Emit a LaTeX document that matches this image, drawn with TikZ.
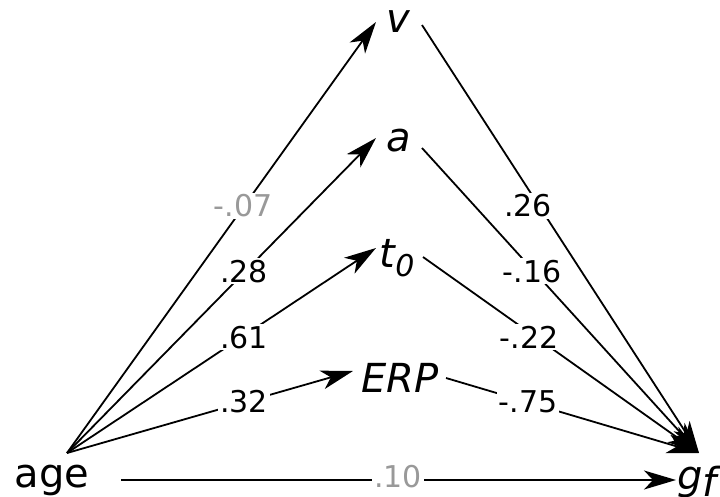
\documentclass[tikz,border=0pt]{standalone}
\usepackage{fontspec}
\setmainfont{DejaVu Sans}
\usetikzlibrary{arrows.meta}
\tikzset{
  nodetxt/.style={anchor=base, inner sep=0pt, font=\fontsize{40}{48}\selectfont},
  lbl/.style={anchor=base, fill=white, inner sep=2pt, font=\fontsize{30}{36}\selectfont},
  grey/.style={text=black!40},
  edge/.style={line width=1.8pt},
  arr/.style={edge, -{Stealth[length=32pt, width=19pt, inset=9pt]}},
}
\begin{document}
\begin{tikzpicture}[x=1pt, y=-1pt]
\useasboundingbox (0,0) rectangle (720,497);
% nodes
\node[nodetxt] (age) at (52,487) {age};
\node[nodetxt] (v) at (398,33) {\itshape v};
\node[nodetxt] (a) at (399,152) {\itshape a};
\node[nodetxt] (t0) at (397,267) {\itshape t\raisebox{-9pt}{\fontsize{30}{36}\selectfont 0}};
\node[nodetxt] (erp) at (400,392) {\itshape ERP};
\node[nodetxt, anchor=base west] (gf) at (677,489) {\itshape g\raisebox{-7pt}{f}};
% connector ends
\coordinate (src) at (67,453);
\coordinate (vin) at (376,22);
\coordinate (ain) at (376,138);
\coordinate (tin) at (376,248);
\coordinate (ein) at (353,371);
\coordinate (vout) at (422,25);
\coordinate (aout) at (422,148);
\coordinate (tout) at (423,257);
\coordinate (eout) at (446,378);
\coordinate (gin) at (699,453);
\coordinate (hs) at (121,480);
\coordinate (hin) at (676,480);
% edges from age
\draw[arr] (src) -- (vin);
\draw[arr] (src) -- (ain);
\draw[arr] (src) -- (tin);
\draw[arr] (src) -- (ein);
\draw[arr] (hs) -- (hin);
% edges to gf
\draw[arr] (vout) -- (gin);
\draw[arr] (aout) -- (gin);
\draw[arr] (tout) -- (gin);
\draw[arr] (eout) -- (gin);
% labels
\node[lbl, grey] (l1) at (243,217) {-.07};
\node[lbl] (l2) at (244,282) {.28};
\node[lbl] (l3) at (244,348) {.61};
\node[lbl] (l4) at (244,412) {.32};
\node[lbl] (r1) at (528,217) {.26};
\node[lbl] (r2) at (532,282) {-.16};
\node[lbl] (r3) at (529,348) {-.22};
\node[lbl] (r4) at (528,412) {-.75};
\node[lbl, grey] (l0) at (398,487) {.10};
\end{tikzpicture}
\end{document}
